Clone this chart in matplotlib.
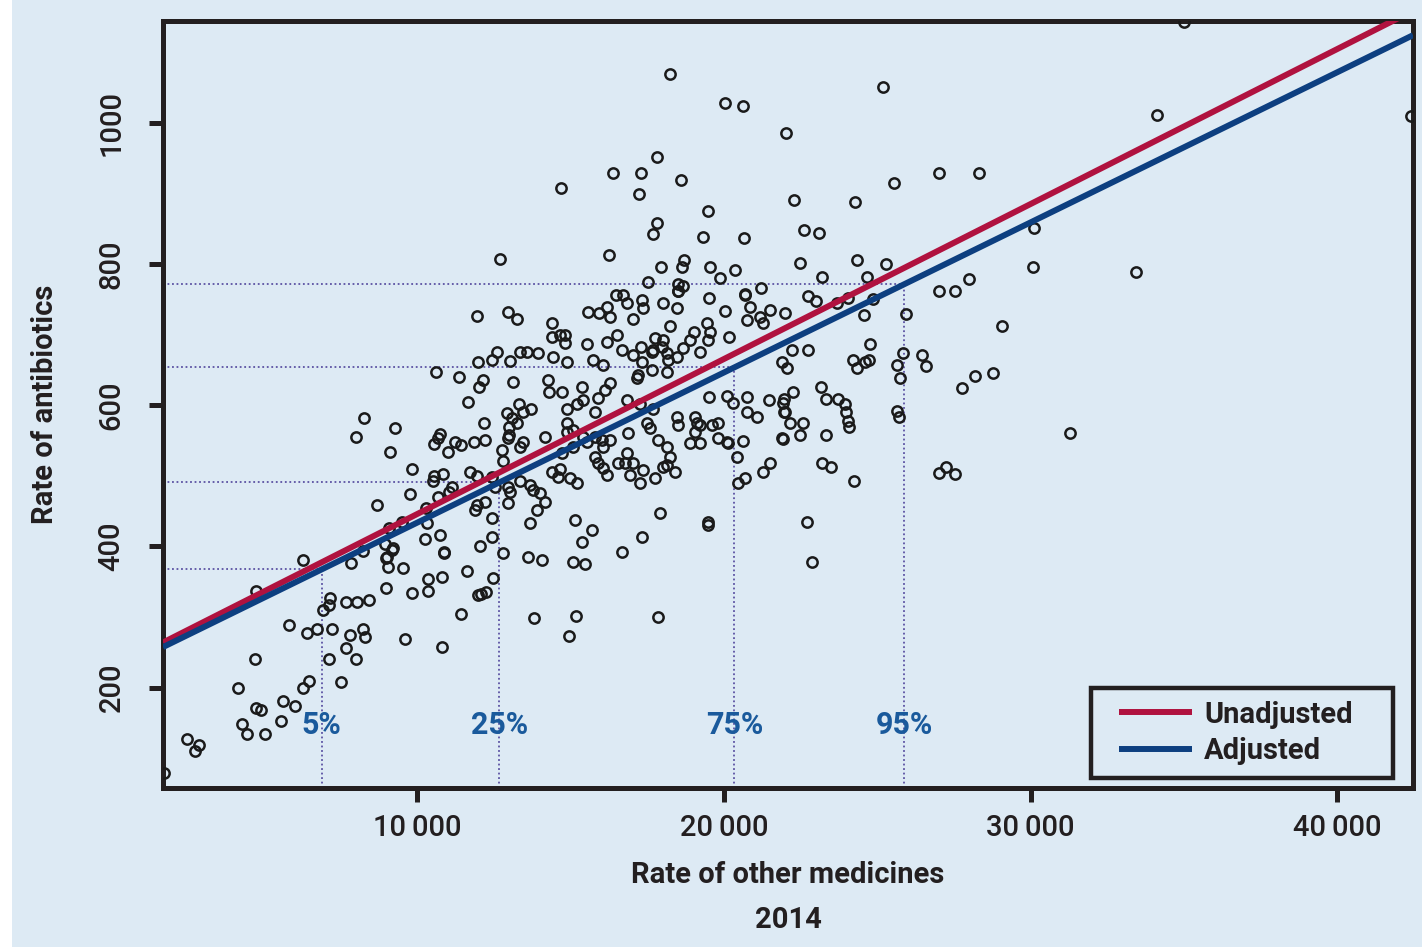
import matplotlib.pyplot as plt
import matplotlib.patches as mpatches
import numpy as np

# rate of other medicines vs rate of antibiotics (one point per practice group)
other_med = [
    1750, 2500, 2891, 2761, 4163, 4717, 4750, 4913, 4293, 4456, 5043, 5565, 5630, 6021, 6282,
    6477, 7521, 7129, 8010, 7684, 7814, 8244, 8309, 9607, 10826, 5825, 6412, 6738, 7227,
    6282, 4750, 7162, 7129, 6934, 7684, 8042, 8433, 11433, 8988, 9835, 10357, 10357, 10813,
    11628, 9542, 9053, 8988, 7847, 10878, 11987, 8238, 9183,
    11954, 11987, 10618, 11368, 11661, 12020, 8270, 8010, 9281, 9118, 10748, 10552, 10683,
    11009, 11237, 11433, 11856, 9835, 9770, 8694, 10552, 10846, 10520, 11139, 11042, 10683,
    11954, 11889, 11954, 10292, 10324, 9509, 9086, 8955, 9216, 9020, 10259, 10748, 10878, 12052,
    12965, 13258, 14399, 14399, 14660, 14823, 14823, 15573, 15931, 16192, 16290, 16485, 16713,
    16844, 17333, 17366, 17040, 18018, 18474, 18507, 18246, 19517, 20039, 20691, 20854, 20756,
    21180, 21506, 21278, 21995, 16518, 16192, 15540, 17757, 18018, 17986, 17692, 18670, 18898,
    19028, 19452, 19550, 19485, 20169, 16681, 17040, 17333, 17301, 17660, 18148, 18181, 18474,
    19224, 12606, 12443, 13030, 13356, 13584, 13943, 14432, 14888, 15736, 16062, 14269, 14301,
    14725, 13128, 12150, 15377, 16290, 16127, 15899, 17170, 17203, 17660, 18148, 16844, 17268,
    17692, 15410, 15214, 14888, 15801, 19517, 20104, 20299, 20756, 20756, 21082, 21473, 21930,
    21995, 13323, 13454, 13714, 12932, 13095, 13258, 12997, 12182, 12997, 12965, 14171, 14888,
    14888, 15084, 15410, 15540, 15801, 16029, 16062, 16290, 16877, 17496, 17594, 17855, 18148,
    18474, 18507, 19061, 19126, 19224, 19061, 18898, 19224, 19615, 19811, 19811, 20104, 20137,
    20626, 21897, 12215, 12769, 12802, 13356, 13454, 14725, 15084, 15801, 16844, 16551, 16779,
    17040, 17366, 17757, 17268, 16942, 16062, 16192, 15899, 14399, 14595, 14660, 14986, 15214,
    18018, 18246, 18409, 18148, 20430, 20463, 20691, 21278, 21506, 11726, 12443, 12541, 12965,
    13030, 12965, 13356, 13682, 13780, 14008, 14171, 13910, 12215, 12443, 12443, 13682, 15149,
    15703, 15377, 17333, 17920, 19485, 19485, 12802, 13617, 14073, 16681,
    15084, 15475, 12476, 12248, 12085, 13812, 15182, 14953, 17855,
    18246, 20039, 20626, 22028, 17822, 16388, 17301, 18605, 17235, 14693, 19485, 17822, 17692,
    19322, 20658, 12704, 16257, 18702, 18637, 17953, 19550, 19876, 20365, 17529, 18507, 18670,
    18507, 21213, 20691,
    25190, 22288, 24277, 25548, 27015, 28319, 22614, 23103, 22484, 24342, 25287, 23201, 24668,
    30112, 30080, 27993, 27015, 27537, 22745, 23006, 24049, 23690, 24864,
    25940, 29069, 24571, 24766, 22223, 22745, 21897, 22060, 24212, 24342, 24603, 24733, 25646,
    25744, 25842, 26461, 26591, 28189, 28776, 27765, 23169, 23332, 22256, 21962, 21962, 22158,
    22582, 22484, 21930, 23723, 23951, 23984, 24049, 24082, 23332, 25646, 25711, 23201, 23494,
    24244, 22712, 22875, 31286, 27015, 27243, 27537,
    35002, 34122, 33437, 42403,
]
antibiotics = [
    79, 128, 119, 111, 200, 241, 171, 169, 149, 135, 135, 153, 181, 174, 200,
    210, 208, 241, 241, 256, 275, 283, 272, 269, 258, 289, 278, 283, 283,
    381, 337, 327, 317, 310, 322, 322, 324, 305, 341, 334, 337, 354, 357,
    365, 370, 371, 384, 377, 391, 331, 393, 395,
    727, 661, 647, 640, 605, 626, 582, 555, 568, 534, 559, 545, 554,
    534, 548, 543, 548, 510, 474, 459, 500, 503, 492, 484, 477, 470,
    500, 452, 459, 455, 433, 435, 426, 404, 398, 385, 411, 416, 392, 401,
    732, 722, 717, 697, 700, 700, 688, 732, 731, 739, 725, 756, 756,
    745, 749, 738, 722, 745, 738, 761, 712, 752, 734, 756, 739, 721,
    725, 735, 717, 731, 700, 690, 686, 695, 693, 683, 678, 681, 693,
    704, 717, 704, 693, 697, 678, 671, 661, 683, 676, 674, 664, 668,
    676, 676, 664, 663, 676, 676, 674, 668, 661, 664, 657, 636, 618,
    619, 633, 636, 626, 632, 622, 610, 639, 643, 650, 647, 608, 601,
    594, 608, 601, 594, 591, 612, 613, 603, 612, 591, 584, 608, 603,
    591, 601, 591, 594, 589, 582, 575, 569, 575, 558, 554, 555, 575,
    562, 565, 555, 548, 555, 551, 541, 551, 561, 575, 568, 551, 541,
    584, 572, 584, 575, 572, 562, 547, 547, 572, 575, 554, 548, 547,
    550, 554, 551, 537, 521, 541, 548, 533, 541, 527, 533, 518, 518,
    518, 508, 497, 490, 501, 511, 501, 518, 506, 499, 509, 497, 490,
    513, 526, 506, 516, 527, 490, 497, 506, 518, 506, 499, 484, 484,
    477, 462, 492, 487, 480, 476, 463, 452, 463, 441, 414, 433, 438,
    424, 407, 414, 448, 435, 431, 391, 385, 381, 392,
    378, 375, 356, 336, 332, 299, 302, 273, 300,
    1069, 1028, 1024, 986, 952, 929, 929, 919, 899, 908, 875, 858, 843,
    838, 837, 807, 812, 806, 795, 795, 795, 780, 792, 775, 772, 769,
    762, 766, 758,
    1051, 891, 888, 915, 929, 929, 848, 844, 802, 806, 800, 782, 782,
    851, 795, 779, 762, 762, 755, 748, 752, 745, 751,
    729, 712, 728, 686, 678, 678, 661, 653, 664, 652, 661, 664, 657,
    639, 674, 671, 656, 642, 646, 625, 626, 609, 618, 609, 591, 575,
    575, 558, 552, 609, 602, 591, 578, 569, 558, 592, 584, 518, 513,
    492, 435, 378, 561, 504, 513, 502,
    1142, 1011, 789, 1010,
]

# fitted lines (intercept, slope)
unadj_fit = (226.3, 0.02195)
adj_fit = (221.0, 0.02126)

pct_labels = ['5%', '25%', '75%', '95%']
pct_x = [6892, 12681, 20342, 25884]

bg = '#ddeaf4'
ink = '#231f20'
red = '#b0123f'
blue = '#0d3f80'
dot_col = '#5b52a3'
font = ['Roboto', 'DejaVu Sans']

fig = plt.figure(figsize=(14.22, 9.47), dpi=100, facecolor='white')
fig.patches.append(mpatches.Rectangle((12 / 1422, 0), 1, 1, transform=fig.transFigure,
                                      facecolor=bg, edgecolor='none', zorder=-10))
ax = fig.add_axes([163 / 1422, 159 / 947, 1250 / 1422, 767 / 947])
ax.set_facecolor(bg)

xmin, xmax = 1718, 42470
ymin, ymax = 58, 1144
ax.set_xlim(xmin, xmax)
ax.set_ylim(ymin, ymax)

# percentile guide lines, hitting the adjusted line
pct_x = np.array(pct_x)
pct_y = adj_fit[0] + adj_fit[1] * pct_x
ax.vlines(pct_x, ymin, pct_y, colors=dot_col, linestyles=(0, (1, 1.5)), lw=1.3, zorder=1)
ax.hlines(pct_y, xmin, pct_x, colors=dot_col, linestyles=(0, (1, 1.5)), lw=1.3, zorder=1)
for lab, xp in zip(pct_labels, pct_x):
    ax.text(xp, 147, lab, color='#1a5a9c', fontsize=22, fontweight='bold', family=font,
            ha='center', va='center', zorder=2)

ax.plot(other_med, antibiotics, 'o', mfc='none', mec='#1a1a1a', ms=7.4, mew=1.8, zorder=3)

xx = np.array([xmin, xmax])
ax.plot(xx, unadj_fit[0] + unadj_fit[1] * xx, color=red, lw=4.3, label='Unadjusted', zorder=4,
        solid_capstyle='butt')
ax.plot(xx, adj_fit[0] + adj_fit[1] * xx, color=blue, lw=4.3, label='Adjusted', zorder=5,
        solid_capstyle='butt')

for s in ax.spines.values():
    s.set_linewidth(3.6)
    s.set_color(ink)

ax.set_xticks([10000, 20000, 30000, 40000])
ax.set_xticklabels(['10\u2009000', '20\u2009000', '30\u2009000', '40\u2009000'])
ax.set_yticks([200, 400, 600, 800, 1000])
ax.set_yticklabels(['200', '400', '600', '800', '1000'], rotation=90, va='center')
ax.tick_params(axis='both', direction='out', length=10, width=3.6, color=ink,
               labelcolor=ink, labelsize=21)
ax.tick_params(axis='x', pad=9)
ax.tick_params(axis='y', pad=17)
for t in ax.get_xticklabels() + ax.get_yticklabels():
    t.set_family(font)
    t.set_fontweight('medium')

fig.text(788 / 1422, 1 - 875 / 947, 'Rate of other medicines', ha='center', va='center',
         fontsize=21, color=ink, family=font, fontweight='bold')
fig.text(788 / 1422, 1 - 920 / 947, '2014', ha='center', va='center',
         fontsize=21, color=ink, family=font, fontweight='bold')
fig.text(45 / 1422, 1 - 404 / 947, 'Rate of antibiotics', ha='center', va='center',
         rotation=90, fontsize=21, color=ink, family=font, fontweight='bold')

# legend box drawn separately so its padding can be wider than tall
box = mpatches.Rectangle((0.7424, 0.013), 0.2416, 0.1174, transform=ax.transAxes,
                         facecolor=bg, edgecolor=ink, lw=3.2, joinstyle='miter', zorder=6)
ax.add_patch(box)
leg = ax.legend(loc='center left', bbox_to_anchor=(0.7648, 0.0717), borderaxespad=0,
                frameon=False, prop={'family': font, 'size': 21, 'weight': 'bold'},
                handlelength=2.5, handletextpad=0.42, labelspacing=0.3, borderpad=0)
leg.set_zorder(7)
for t in leg.get_texts():
    t.set_color(ink)

plt.savefig('out.png', dpi=100, facecolor=fig.get_facecolor())
